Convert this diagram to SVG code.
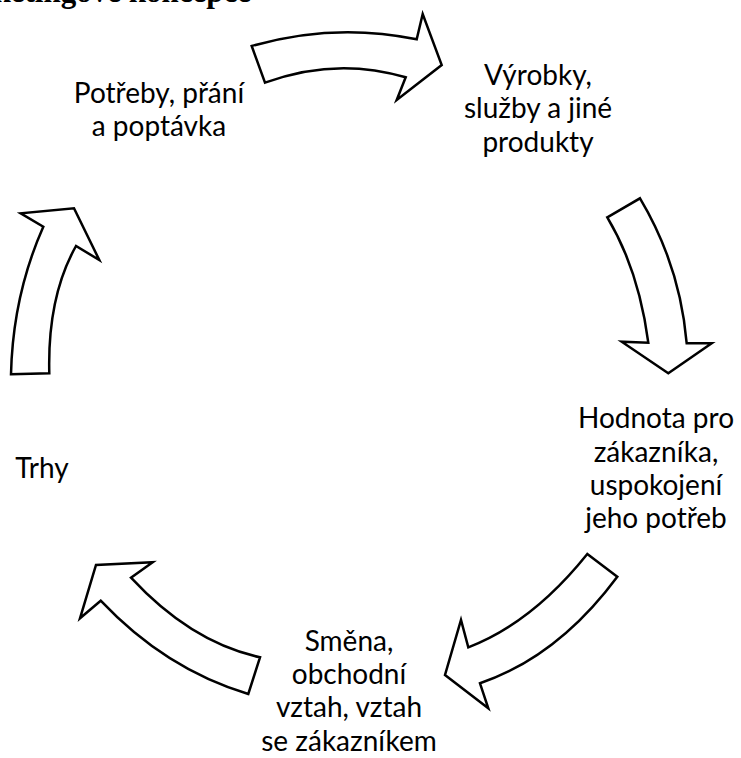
<svg xmlns="http://www.w3.org/2000/svg" width="741" height="758" viewBox="0 0 741 758">
  <style>
    .lbl { font-family: Lato, "Open Sans", "Liberation Sans", sans-serif; font-size: 28px; fill: #000; text-anchor: middle; }
    .title { font-family: "Liberation Serif", "Times New Roman", serif; font-weight: bold; font-size: 31px; fill: #000; text-anchor: end; }
    .arrow { fill: #fff; stroke: #000; stroke-width: 2.5; stroke-linejoin: miter; }
  </style>
  <rect x="0" y="0" width="741" height="758" fill="#fff"/>
  <text class="title" x="251" y="2">Marketingové koncepce</text>

  <g id="connectors">
    <path class="arrow" d="M251.7,46 Q334,22.3 416.7,39.3 L422.7,14 L441.7,65 L396.7,100 L405.7,77.3 Q335.6,56.6 265,82.7 Z"/>
    <path class="arrow" d="M607.3,217.3 L640,198.3 Q680,265.2 686.7,343.3 L711.7,343.3 L668.3,373.3 L621.7,341.7 L648.3,342.7 Q638.8,270 607.3,217.3 Z"/>
    <path class="arrow" d="M587.3,554 L617.3,576.7 Q558,656.6 480,683.3 L488.3,708.3 L445,675 L461,620 L468.3,647.3 Q532.2,622.8 587.3,554 Z"/>
    <path class="arrow" d="M260,657.3 L248.3,694 Q165.5,669.3 100.7,600.7 L80,618.3 L96,565 L152.7,562.3 L131,577.7 Q191.1,642.5 260,657.3 Z"/>
    <path class="arrow" d="M11,374.3 L49.3,373.3 Q47.35,297 76,246 L99.3,260 L74,208.3 L20.7,213.3 L43.3,226.7 Q12.85,295.5 11,374.3 Z"/>
  </g>

  <g id="potreby">
    <text class="lbl" x="159" y="102.5">Potřeby, přání</text>
    <text class="lbl" x="159" y="135.5">a poptávka</text>
  </g>
  <g id="vyrobky">
    <text class="lbl" x="538" y="85">Výrobky,</text>
    <text class="lbl" x="538" y="118.3">služby a jiné</text>
    <text class="lbl" x="538" y="151.7">produkty</text>
  </g>
  <g id="hodnota">
    <text class="lbl" x="656" y="428.3">Hodnota pro</text>
    <text class="lbl" x="656" y="461.7">zákazníka,</text>
    <text class="lbl" x="656" y="495">uspokojení</text>
    <text class="lbl" x="656" y="528.3">jeho potřeb</text>
  </g>
  <g id="smena">
    <text class="lbl" x="349" y="650.7">Směna,</text>
    <text class="lbl" x="349" y="684">obchodní</text>
    <text class="lbl" x="349" y="717.3">vztah, vztah</text>
    <text class="lbl" x="349" y="750.5">se zákazníkem</text>
  </g>
  <g id="trhy">
    <text class="lbl" x="42" y="478.3">Trhy</text>
  </g>
</svg>
